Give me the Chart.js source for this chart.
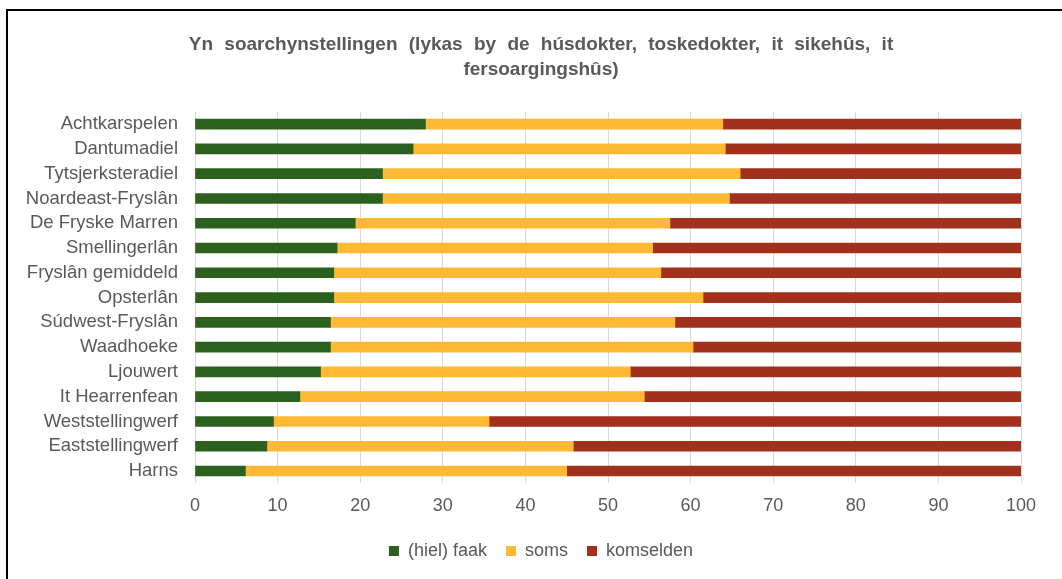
<!DOCTYPE html>
<html>
<head>
<meta charset="utf-8">
<script src="https://cdn.jsdelivr.net/npm/chart.js@4.4.1/dist/chart.umd.min.js"></script>
<style>
  html, body { margin: 0; padding: 0; background: #ffffff; overflow: hidden; }
  #wrap { position: relative; width: 1062px; height: 579px; }
  #c { position: absolute; left: 0; top: 0; }
  #frame { position: absolute; left: 6px; top: 9px; width: 1100px; height: 700px; border: 2px solid #000; pointer-events: none; }
</style>
</head>
<body>
<div id="wrap">
  <canvas id="c" width="1062" height="579"></canvas>
  <div id="frame"></div>
</div>
<script>
const categories = [
  "Achtkarspelen", "Dantumadiel", "Tytsjerksteradiel", "Noardeast-Fryslân",
  "De Fryske Marren", "Smellingerlân", "Fryslân gemiddeld", "Opsterlân",
  "Súdwest-Fryslân", "Waadhoeke", "Ljouwert", "It Hearrenfean",
  "Weststellingwerf", "Eaststellingwerf", "Harns"
];
const faak = [27.9, 26.4, 22.7, 22.7, 19.4, 17.2, 16.8, 16.8, 16.4, 16.4, 15.2, 12.7, 9.5, 8.7, 6.1];
const soms = [36.0, 37.8, 43.3, 42.0, 38.1, 38.2, 39.6, 44.7, 41.7, 43.9, 37.5, 41.7, 26.1, 37.1, 38.9];
const komselden = [36.1, 35.8, 34.0, 35.3, 42.5, 44.6, 43.6, 38.5, 41.9, 39.7, 47.3, 45.6, 64.4, 54.2, 55.0];
const seriesNames = ["(hiel) faak", "soms", "komselden"];
const titleLines = ["Yn soarchynstellingen (lykas by de húsdokter, toskedokter, it sikehûs, it", "fersoargingshûs)"];

const FONT = "'Liberation Sans', Arial, sans-serif";
const GRAY = "#595959";

const unclipLabels = {
  id: "unclipLabels",
  afterLayout(chart) { chart.scales.y.left = 0; }
};

// Slightly wider word gaps in the title, as in the reference rendering
const titleSpacing = {
  id: "titleSpacing",
  beforeLayout(chart) {
    const tb = chart.titleBlock;
    if (tb && !tb._spacedPatch) {
      const orig = tb.draw;
      tb.draw = function () {
        const ctx = this.ctx;
        ctx.save();
        ctx.wordSpacing = "6px";
        orig.apply(this, arguments);
        ctx.restore();
      };
      tb._spacedPatch = true;
    }
  }
};

new Chart(document.getElementById("c"), {
  type: "bar",
  data: {
    labels: categories,
    datasets: [
      { label: seriesNames[0], data: faak, backgroundColor: "#2C601E", barThickness: 10 },
      { label: seriesNames[1], data: soms, backgroundColor: "#FFB935", barThickness: 10 },
      { label: seriesNames[2], data: komselden, backgroundColor: "#A1301C", barThickness: 10 }
    ]
  },
  plugins: [unclipLabels, titleSpacing],
  options: {
    indexAxis: "y",
    responsive: false,
    animation: false,
    devicePixelRatio: 1,
    layout: { padding: { left: 61, right: 41, top: 22, bottom: 9 } },
    scales: {
      x: {
        stacked: true,
        min: 0, max: 100,
        ticks: { stepSize: 10, color: GRAY, font: { family: FONT, size: 18 }, padding: 12 },
        grid: { color: "#D9D9D9", lineWidth: 1, drawTicks: false },
        border: { display: false },
        afterFit: (s) => { s.height = 39.6; }
      },
      y: {
        stacked: true,
        ticks: { color: GRAY, font: { family: FONT, size: 18.5 }, padding: 17, autoSkip: false },
        grid: { display: false, drawTicks: false },
        border: { display: false },
        afterFit: (s) => { s.width = 134; }
      }
    },
    plugins: {
      title: {
        display: true,
        text: titleLines,
        color: GRAY,
        font: { family: FONT, size: 19, weight: "bold", lineHeight: 1.33 },
        padding: { top: 10, bottom: 29.2 }
      },
      legend: {
        position: "bottom",
        labels: { boxWidth: 10, boxHeight: 10, padding: 19, color: GRAY, font: { family: FONT, size: 18 } }
      },
      tooltip: { enabled: false }
    }
  }
});
</script>
</body>
</html>
